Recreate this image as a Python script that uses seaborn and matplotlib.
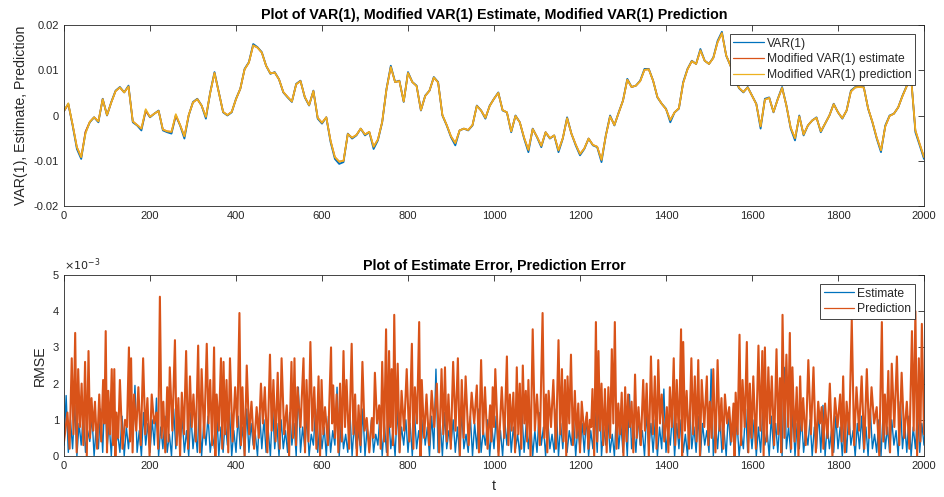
import numpy as np
import pandas as pd
import matplotlib
matplotlib.use('Agg')
import matplotlib.pyplot as plt
import seaborn as sns

# MATLAB default line colours
BLUE = '#0072BD'
ORANGE = '#D95319'
YELLOW = '#EDB120'
AXC = '#262626'

# ---- top panel: VAR(1) and modified estimate / prediction, sampled every 10 steps
t_top = np.arange(0, 2001, 10)

var1 = [
    0.0010, 0.0026, -0.0022, -0.0074, -0.0096, -0.0037, -0.0015, -0.0004, -0.0015, 0.0037,
    0.0000, 0.0030, 0.0055, 0.0063, 0.0051, 0.0066, -0.0015, -0.0022, -0.0033, 0.0011,
    -0.0004, 0.0004, 0.0011, -0.0033, -0.0037, -0.0040, 0.0000, -0.0022, -0.0051, 0.0000,
    0.0030, 0.0037, 0.0022, -0.0007, 0.0051, 0.0096, 0.0051, 0.0007, 0.0000, 0.0007,
    0.0037, 0.0059, 0.0103, 0.0118, 0.0158, 0.0151, 0.0140, 0.0110, 0.0092, 0.0096,
    0.0080, 0.0051, 0.0040, 0.0030, 0.0070, 0.0077, 0.0040, 0.0022, 0.0055, -0.0007,
    -0.0018, -0.0004, -0.0059, -0.0096, -0.0107, -0.0103, -0.0040, -0.0051, -0.0044, -0.0029,
    -0.0044, -0.0037, -0.0074, -0.0055, -0.0015, 0.0059, 0.0110, 0.0074, 0.0077, 0.0030,
    0.0096, 0.0074, 0.0066, 0.0011, 0.0044, 0.0055, 0.0085, 0.0074, 0.0000, -0.0022,
    -0.0048, -0.0066, -0.0033, -0.0029, -0.0033, -0.0022, 0.0022, 0.0011, -0.0007, 0.0022,
    0.0037, 0.0051, 0.0011, 0.0007, -0.0037, 0.0000, -0.0015, -0.0051, -0.0081, -0.0029,
    -0.0048, -0.0070, -0.0037, -0.0051, -0.0044, -0.0081, -0.0051, -0.0004, -0.0040, -0.0066,
    -0.0088, -0.0074, -0.0051, -0.0066, -0.0070, -0.0103, -0.0044, 0.0000, -0.0022, 0.0007,
    0.0033, 0.0081, 0.0063, 0.0066, 0.0077, 0.0103, 0.0103, 0.0077, 0.0040, 0.0026,
    0.0015, -0.0015, 0.0007, 0.0015, 0.0074, 0.0103, 0.0121, 0.0114, 0.0147, 0.0121,
    0.0114, 0.0128, 0.0165, 0.0185, 0.0132, 0.0110, 0.0080, 0.0060, 0.0051, 0.0063,
    0.0044, 0.0026, -0.0029, 0.0037, 0.0040, 0.0007, 0.0037, 0.0063, 0.0022, -0.0029,
    -0.0055, 0.0000, -0.0044, -0.0022, -0.0011, -0.0004, -0.0037, -0.0018, 0.0000, 0.0026,
    0.0007, -0.0007, 0.0011, 0.0055, 0.0063, 0.0063, 0.0063, 0.0015, -0.0015, -0.0051,
    -0.0081, -0.0022, 0.0000, 0.0004, 0.0018, 0.0044, 0.0066, 0.0085, -0.0037, -0.0066,
    -0.0096,
]

est_top = [
    0.0010, 0.0025, -0.0020, -0.0070, -0.0092, -0.0036, -0.0014, -0.0004, -0.0013, 0.0036,
    0.0001, 0.0029, 0.0054, 0.0062, 0.0051, 0.0064, -0.0013, -0.0021, -0.0029, 0.0010,
    -0.0003, 0.0004, 0.0010, -0.0031, -0.0035, -0.0036, 0.0000, -0.0021, -0.0046, 0.0001,
    0.0029, 0.0036, 0.0022, -0.0003, 0.0050, 0.0094, 0.0051, 0.0008, 0.0001, 0.0008,
    0.0036, 0.0059, 0.0102, 0.0117, 0.0155, 0.0150, 0.0139, 0.0110, 0.0093, 0.0095,
    0.0080, 0.0052, 0.0041, 0.0031, 0.0069, 0.0076, 0.0041, 0.0023, 0.0054, -0.0005,
    -0.0016, -0.0004, -0.0056, -0.0092, -0.0102, -0.0100, -0.0041, -0.0049, -0.0043, -0.0029,
    -0.0042, -0.0036, -0.0069, -0.0053, -0.0014, 0.0058, 0.0107, 0.0074, 0.0076, 0.0031,
    0.0094, 0.0074, 0.0065, 0.0012, 0.0043, 0.0055, 0.0084, 0.0073, 0.0001, -0.0021,
    -0.0046, -0.0061, -0.0033, -0.0029, -0.0032, -0.0021, 0.0021, 0.0011, -0.0005, 0.0021,
    0.0037, 0.0050, 0.0012, 0.0007, -0.0035, -0.0001, -0.0015, -0.0049, -0.0076, -0.0030,
    -0.0047, -0.0067, -0.0037, -0.0050, -0.0044, -0.0077, -0.0050, -0.0006, -0.0040, -0.0064,
    -0.0085, -0.0073, -0.0051, -0.0065, -0.0069, -0.0098, -0.0045, -0.0002, -0.0021, 0.0006,
    0.0033, 0.0079, 0.0063, 0.0066, 0.0076, 0.0101, 0.0102, 0.0077, 0.0041, 0.0026,
    0.0014, -0.0010, 0.0007, 0.0016, 0.0072, 0.0102, 0.0120, 0.0114, 0.0144, 0.0121,
    0.0114, 0.0127, 0.0162, 0.0182, 0.0133, 0.0110, 0.0081, 0.0061, 0.0052, 0.0062,
    0.0044, 0.0025, -0.0024, 0.0035, 0.0039, 0.0008, 0.0036, 0.0061, 0.0022, -0.0027,
    -0.0050, -0.0002, -0.0042, -0.0022, -0.0011, -0.0005, -0.0035, -0.0018, 0.0000, 0.0025,
    0.0007, -0.0006, 0.0011, 0.0053, 0.0062, 0.0063, 0.0062, 0.0016, -0.0014, -0.0049,
    -0.0077, -0.0024, -0.0001, 0.0004, 0.0018, 0.0043, 0.0065, 0.0083, -0.0033, -0.0063,
    -0.0092,
]

pred_top = [
    0.0010, 0.0027, -0.0020, -0.0070, -0.0092, -0.0040, -0.0014, -0.0004, -0.0013, 0.0036,
    0.0001, 0.0029, 0.0054, 0.0062, 0.0051, 0.0064, -0.0013, -0.0021, -0.0029, 0.0014,
    -0.0003, 0.0004, 0.0010, -0.0031, -0.0035, -0.0036, 0.0003, -0.0021, -0.0046, 0.0001,
    0.0029, 0.0036, 0.0022, -0.0003, 0.0050, 0.0094, 0.0051, 0.0008, 0.0001, 0.0008,
    0.0036, 0.0059, 0.0102, 0.0117, 0.0155, 0.0150, 0.0139, 0.0110, 0.0093, 0.0095,
    0.0080, 0.0052, 0.0041, 0.0031, 0.0069, 0.0076, 0.0041, 0.0023, 0.0054, -0.0005,
    -0.0016, -0.0004, -0.0056, -0.0092, -0.0102, -0.0100, -0.0041, -0.0049, -0.0043, -0.0029,
    -0.0042, -0.0036, -0.0069, -0.0053, -0.0014, 0.0058, 0.0107, 0.0074, 0.0076, 0.0031,
    0.0094, 0.0074, 0.0065, 0.0012, 0.0043, 0.0055, 0.0084, 0.0073, 0.0001, -0.0021,
    -0.0046, -0.0061, -0.0033, -0.0029, -0.0032, -0.0021, 0.0021, 0.0011, -0.0005, 0.0021,
    0.0037, 0.0050, 0.0012, 0.0007, -0.0035, -0.0001, -0.0015, -0.0049, -0.0076, -0.0030,
    -0.0047, -0.0067, -0.0037, -0.0050, -0.0044, -0.0077, -0.0050, -0.0006, -0.0040, -0.0064,
    -0.0085, -0.0073, -0.0051, -0.0065, -0.0069, -0.0098, -0.0045, -0.0002, -0.0021, 0.0006,
    0.0033, 0.0079, 0.0063, 0.0066, 0.0076, 0.0101, 0.0102, 0.0077, 0.0041, 0.0026,
    0.0014, -0.0010, 0.0007, 0.0016, 0.0072, 0.0102, 0.0120, 0.0114, 0.0144, 0.0121,
    0.0114, 0.0127, 0.0162, 0.0182, 0.0133, 0.0110, 0.0081, 0.0061, 0.0052, 0.0062,
    0.0044, 0.0025, -0.0024, 0.0035, 0.0039, 0.0008, 0.0036, 0.0061, 0.0022, -0.0027,
    -0.0050, -0.0002, -0.0042, -0.0022, -0.0011, -0.0005, -0.0035, -0.0018, 0.0000, 0.0025,
    0.0007, -0.0006, 0.0011, 0.0053, 0.0062, 0.0063, 0.0062, 0.0016, -0.0014, -0.0049,
    -0.0077, -0.0024, -0.0001, 0.0004, 0.0018, 0.0043, 0.0065, 0.0083, -0.0033, -0.0063,
    -0.0092,
]

# ---- bottom panel: errors, in units of 1e-3
# estimate error, every 5 steps
t_est = np.arange(0, 2001, 5)
est_err = [
    0.3, 1.67, 0.1, 1.0, 0.2, 1.4, 0.0, 0.9, 0.3, 1.2, 0.1, 0.7, 0.4, 1.1, 0.0, 0.8, 0.2, 1.3, 0.1, 1.85,
    0.2, 0.9, 0.0, 1.2, 0.3, 0.6, 0.1, 1.1, 0.0, 0.8, 0.2, 1.0, 0.4, 1.95, 0.1, 0.7, 0.0, 1.2, 0.3, 0.9,
    0.1, 1.0, 0.3, 1.6, 0.0, 0.8, 0.2, 1.1, 0.1, 0.6, 0.0, 1.3, 0.2, 0.9, 0.4, 1.0, 0.1, 0.7, 0.0, 1.2,
    0.2, 0.8, 0.1, 1.4, 0.0, 0.9, 0.3, 1.1, 0.1, 0.6, 0.2, 1.3, 0.0, 0.8, 0.1, 1.0, 0.3, 1.2, 0.0, 0.7,
    0.1, 1.1, 0.2, 0.8, 0.0, 1.3, 0.1, 0.9, 0.3, 0.6, 0.0, 1.2, 0.2, 1.0, 0.1, 0.7, 0.0, 1.4, 0.2, 0.9,
    0.0, 1.0, 0.2, 0.7, 0.1, 1.2, 0.3, 0.9, 0.0, 1.9, 0.1, 0.8, 0.2, 1.1, 0.0, 0.6, 0.3, 1.3, 0.1, 0.9,
    0.2, 0.8, 0.0, 1.1, 0.1, 0.7, 0.3, 1.9, 0.0, 1.0, 0.2, 0.6, 0.1, 1.2, 0.0, 0.9, 0.2, 0.7, 0.1, 1.3,
    0.0, 0.8, 0.2, 1.0, 0.1, 0.6, 0.3, 1.2, 0.0, 0.9, 0.1, 1.1, 0.2, 0.7, 0.0, 1.3, 0.1, 0.8, 0.3, 1.0,
    0.1, 0.9, 0.0, 1.2, 0.2, 0.7, 0.1, 1.0, 0.3, 0.8, 0.0, 1.1, 0.2, 2.4, 0.1, 0.9, 0.0, 1.2, 0.2, 0.7,
    0.3, 1.0, 0.1, 0.8, 0.0, 1.2, 0.2, 0.6, 0.1, 1.1, 0.0, 0.9, 0.2, 1.3, 0.1, 0.7, 0.3, 1.0, 0.0, 0.8,
    0.2, 1.1, 0.1, 0.7, 0.0, 1.0, 0.3, 1.3, 0.1, 0.8, 0.2, 0.6, 0.0, 1.2, 0.1, 0.9, 0.2, 1.0, 0.0, 0.7,
    0.1, 1.2, 0.3, 0.8, 0.0, 1.0, 0.2, 0.6, 0.1, 1.3, 0.0, 0.9, 0.2, 1.1, 0.1, 0.7, 0.3, 1.0, 0.0, 0.8,
    0.2, 0.9, 0.1, 1.1, 0.0, 0.7, 0.2, 1.2, 0.1, 2.0, 0.0, 0.8, 0.3, 1.0, 0.1, 0.6, 0.0, 1.3, 0.2, 0.9,
    0.1, 1.0, 0.0, 1.7, 0.2, 0.8, 0.1, 1.1, 0.3, 0.7, 0.0, 1.2, 0.2, 0.9, 0.1, 1.0, 0.0, 0.8, 0.2, 1.85,
    0.1, 0.7, 0.3, 1.2, 0.0, 0.9, 0.2, 1.0, 0.1, 0.6, 0.0, 1.3, 0.2, 0.8, 0.1, 1.1, 0.0, 0.9, 0.3, 0.7,
    0.1, 2.4, 0.0, 0.9, 0.2, 1.1, 0.1, 0.7, 0.0, 1.2, 0.3, 0.8, 0.1, 1.0, 0.0, 0.6, 0.2, 1.3, 0.1, 0.9,
    0.2, 1.0, 0.0, 0.8, 0.1, 1.2, 0.3, 0.7, 0.0, 1.1, 0.2, 0.9, 0.1, 1.0, 0.0, 2.45, 0.2, 0.8, 0.1, 1.2,
    0.0, 0.9, 0.2, 1.1, 0.1, 0.7, 0.3, 1.0, 0.0, 0.8, 0.2, 1.2, 0.1, 1.4, 0.0, 0.9, 0.2, 0.7, 0.1, 1.1,
    0.2, 0.8, 0.0, 1.0, 0.1, 1.2, 0.3, 0.7, 0.0, 0.9, 0.2, 1.1, 0.1, 0.8, 0.0, 1.3, 0.2, 0.6, 0.1, 1.0,
    0.0, 1.2, 0.2, 0.8, 0.1, 1.0, 0.3, 0.7, 0.0, 1.5, 0.2, 0.9, 0.1, 1.1, 0.0, 0.8, 0.2, 1.2, 0.1, 0.9,
    0.3,
]

# prediction error: spike tops (t, value)
pred_peak_t = [
    8, 18, 26, 33, 41, 49, 57, 64, 72, 82,
    91, 97, 103, 111, 117, 122, 130, 142, 151, 156,
    163, 173, 184, 194, 204, 215, 223, 231, 240, 246,
    258, 266, 274, 284, 293, 301, 312, 320, 332, 340,
    349, 355, 365, 371, 378, 386, 398, 408, 415, 425,
    436, 448, 458, 467, 479, 487, 497, 506, 518, 529,
    536, 543, 557, 564, 573, 582, 592, 599, 607, 621,
    626, 634, 642, 650, 657, 669, 677, 685, 694, 704,
    716, 723, 733, 740, 749, 756, 762, 768, 776, 785,
    797, 809, 816, 826, 832, 843, 855, 867, 878, 886,
    894, 905, 916, 925, 934, 948, 960, 970, 979, 991,
    997, 1003, 1018, 1030, 1037, 1045, 1053, 1060, 1067, 1074,
    1080, 1090, 1100, 1113, 1121, 1127, 1138, 1150, 1158, 1165,
    1171, 1179, 1188, 1196, 1204, 1216, 1223, 1229, 1237, 1243,
    1250, 1258, 1266, 1274, 1281, 1289, 1297, 1305, 1312, 1320,
    1328, 1336, 1347, 1355, 1365, 1374, 1382, 1390, 1402, 1409,
    1418, 1425, 1435, 1440, 1448, 1459, 1467, 1475, 1483, 1495,
    1502, 1510, 1520, 1529, 1537, 1547, 1557, 1562, 1571, 1578,
    1588, 1595, 1603, 1615, 1624, 1630, 1638, 1646, 1657, 1665,
    1671, 1680, 1688, 1694, 1704, 1712, 1719, 1731, 1743, 1754,
    1762, 1770, 1781, 1793, 1805, 1812, 1820, 1832, 1843, 1855,
    1867, 1878, 1890, 1902, 1909, 1917, 1925, 1937, 1948, 1960,
    1972, 1980, 1988, 1995,
]
pred_peak = [
    1.2, 2.7, 3.4, 2.4, 2.0, 2.6, 2.9, 1.6, 1.5, 1.7,
    2.1, 3.45, 1.8, 2.4, 2.4, 1.2, 2.1, 1.0, 3.0, 2.7,
    1.7, 1.9, 2.7, 1.6, 1.7, 1.2, 4.4, 1.5, 1.9, 2.45,
    3.2, 1.6, 1.75, 2.9, 2.2, 1.7, 3.05, 2.4, 3.1, 2.1,
    3.0, 1.7, 2.7, 2.6, 2.1, 2.7, 1.9, 3.95, 1.9, 2.5,
    1.5, 1.35, 2.0, 1.9, 2.8, 2.1, 2.3, 2.7, 1.4, 2.6,
    2.7, 1.9, 2.7, 2.1, 3.15, 1.9, 2.2, 2.1, 1.35, 3.0,
    1.95, 1.7, 2.0, 2.9, 2.1, 3.1, 1.7, 1.4, 2.6, 1.05,
    1.05, 2.3, 1.4, 2.6, 3.5, 2.9, 2.4, 3.9, 2.55, 1.8,
    2.4, 3.1, 1.9, 3.7, 2.1, 1.7, 1.8, 2.0, 2.4, 2.45,
    1.7, 2.6, 2.7, 2.1, 2.2, 1.75, 1.95, 2.65, 1.9, 1.4,
    1.9, 2.4, 1.9, 2.75, 1.7, 1.75, 2.45, 2.0, 2.5, 1.8,
    2.1, 3.5, 1.7, 3.95, 1.7, 1.8, 2.1, 3.2, 2.4, 2.1,
    2.2, 2.8, 1.8, 1.45, 1.5, 1.2, 1.0, 1.85, 3.7, 2.9,
    2.0, 1.85, 1.9, 2.95, 3.7, 1.45, 1.75, 1.9, 1.7, 1.5,
    2.25, 1.35, 2.1, 2.0, 2.75, 2.2, 2.65, 1.7, 1.35, 1.9,
    2.7, 2.1, 3.5, 3.15, 1.8, 2.7, 2.2, 2.65, 2.1, 2.2,
    1.5, 2.4, 2.65, 1.6, 1.7, 1.35, 1.45, 1.75, 3.35, 2.1,
    3.15, 2.0, 2.2, 3.05, 2.9, 3.0, 2.45, 2.2, 2.95, 2.15,
    3.9, 2.8, 3.4, 2.45, 1.9, 2.2, 1.6, 2.65, 2.45, 1.5,
    1.35, 1.45, 2.0, 1.6, 1.7, 2.2, 1.5, 3.75, 1.9, 2.2,
    2.4, 1.9, 1.35, 3.7, 1.7, 2.35, 2.55, 2.75, 2.3, 1.5,
    3.45, 4.0, 2.7, 3.65,
]
# low points between spikes (first at t=0, last at t=2000)
pred_low = [
    0.4, 0.2, 0.6, 0.1, 0.8, 0.3, 0.0, 0.5, 0.7, 0.2, 0.4, 0.9, 0.1, 0.6, 0.3,
    0.0, 0.5, 0.2, 0.8, 0.4, 0.1, 0.7, 0.3, 0.6, 0.0, 0.9, 0.2, 0.5, 0.1, 0.4,
    0.7, 0.3, 0.0, 0.6, 0.2, 0.8, 0.4, 0.1, 0.5, 0.9, 0.3, 0.0, 0.7, 0.2, 0.6,
    0.1, 0.4, 0.8, 0.3, 0.0, 0.6, 0.2, 0.5, 0.9, 0.1, 0.7, 0.4, 0.2, 0.6, 0.0,
    0.5, 0.3, 0.8, 0.1, 0.4, 0.7, 0.2, 0.0, 0.6, 0.3, 0.9, 0.5, 0.1, 0.4, 0.8,
    0.2, 0.6, 0.0, 0.3, 0.7, 0.1, 0.5, 0.9, 0.2, 0.4, 0.0, 0.8, 0.3, 0.6, 0.1,
    0.7, 0.4, 0.2, 0.9, 0.0, 0.5, 0.3, 0.8, 0.1, 0.6, 0.4, 0.2, 0.7, 0.0, 0.5,
    0.3, 0.9, 0.1, 0.6, 0.2, 0.4, 0.8, 0.0, 0.5, 0.3, 0.7, 0.1, 0.6, 0.2, 0.9,
    0.4, 0.0, 0.7, 0.3, 0.5, 0.1, 0.8, 0.2, 0.6, 0.4, 0.0, 0.9, 0.3, 0.5, 0.1,
    0.6, 0.2, 0.8, 0.0, 0.4, 0.7, 0.3, 0.1, 0.5, 0.9, 0.2, 0.6, 0.0, 0.4, 0.8,
    0.1, 0.5, 0.3, 0.7, 0.0, 0.6, 0.2, 0.9, 0.4, 0.1, 0.8, 0.3, 0.5, 0.0, 0.7,
    0.2, 0.6, 0.4, 0.0, 0.8, 0.3, 0.5, 0.1, 0.7, 0.2, 0.9, 0.4, 0.0, 0.6, 0.3,
    0.8, 0.1, 0.5, 0.2, 0.7, 0.0, 0.4, 0.9, 0.3, 0.6, 0.1, 0.5, 0.8, 0.2, 0.4,
    0.0, 0.7, 0.3, 0.6, 0.1, 0.9, 0.2, 0.5, 0.0, 0.8, 0.4, 0.1, 0.6, 0.3, 0.7,
    0.2, 0.5, 0.9, 0.0, 0.4, 0.6, 0.1, 0.8, 0.3, 0.5, 0.2, 0.7, 0.0, 0.4, 0.6,
]

x_ticks = np.arange(0, 2001, 200)

# spike / low point path for prediction error
pk_t = np.array(pred_peak_t, dtype=float)
pred_t = np.empty(2 * len(pk_t) + 1)
pred_t[0], pred_t[-1] = 0, 2000
pred_t[1::2] = pk_t
pred_t[2:-1:2] = (pk_t[:-1] + pk_t[1:]) / 2
pred_v = np.empty_like(pred_t)
pred_v[0::2] = pred_low
pred_v[1::2] = pred_peak

# ---- style
sns.set_theme(style='white')
plt.rcParams['font.family'] = ['Liberation Sans', 'DejaVu Sans']
plt.rcParams['axes.unicode_minus'] = False

fig = plt.figure(figsize=(9.44, 4.97), dpi=100)
W, H = 944, 497
ax1 = fig.add_axes([64 / W, 1 - 206 / H, 860 / W, 181 / H])
ax2 = fig.add_axes([64 / W, 1 - 456 / H, 860 / W, 181 / H])

kw = dict(estimator=None, errorbar=None, sort=False)
sns.lineplot(x=t_top, y=var1, ax=ax1, color=BLUE, label='VAR(1)', linewidth=1.3, **kw)
sns.lineplot(x=t_top, y=est_top, ax=ax1, color=ORANGE, label='Modified VAR(1) estimate', linewidth=1.2, **kw)
sns.lineplot(x=t_top, y=pred_top, ax=ax1, color=YELLOW, label='Modified VAR(1) prediction', linewidth=1.2, **kw)

sns.lineplot(x=t_est, y=est_err, ax=ax2, color=BLUE, label='Estimate', linewidth=1.0, **kw)
sns.lineplot(x=pred_t, y=pred_v, ax=ax2, color=ORANGE, label='Prediction', linewidth=1.5, **kw)

for ax in (ax1, ax2):
    ax.set_xlim(0, 2000)
    ax.set_xticks(x_ticks)
    ax.set_xticklabels([str(v) for v in x_ticks])
    ax.tick_params(direction='in', top=True, right=True, length=4, width=0.6,
                   colors=AXC, labelsize=8, pad=3.5)
    for s in ax.spines.values():
        s.set_color(AXC)
        s.set_linewidth(0.6)
    ax.set_facecolor('white')

ax1.set_ylim(-0.02, 0.02)
ax1.set_yticks([-0.02, -0.01, 0, 0.01, 0.02])
ax1.set_yticklabels(['-0.02', '-0.01', '0', '0.01', '0.02'])
ax1.set_ylabel('VAR(1), Estimate, Prediction', fontsize=10.2, color=AXC, labelpad=4)
ax1.set_xlabel('')
ax1.set_title('Plot of VAR(1), Modified VAR(1) Estimate, Modified VAR(1) Prediction',
              fontsize=10.3, fontweight='bold', color='black', pad=4)

ax2.set_ylim(0, 5)
ax2.set_yticks([0, 1, 2, 3, 4, 5])
ax2.set_yticklabels(['0', '1', '2', '3', '4', '5'])
ax2.set_ylabel('RMSE', fontsize=10.2, color=AXC, labelpad=4)
ax2.set_xlabel('t', fontsize=10.2, color=AXC, labelpad=6)
ax2.set_title('Plot of Estimate Error, Prediction Error',
              fontsize=10.3, fontweight='bold', color='black', pad=4)
ax2.text(0.0, 1.01, r'$\times10^{-3}$', transform=ax2.transAxes,
         fontsize=8, color=AXC, ha='left', va='bottom')

leg_kw = dict(loc='upper right', fontsize=8.7, frameon=True, fancybox=False,
              framealpha=1, edgecolor=AXC, handlelength=2.5, handletextpad=0.25,
              borderpad=0.3, labelspacing=0.3, borderaxespad=0.75)
for ax in (ax1, ax2):
    leg = ax.legend(**leg_kw)
    leg.get_frame().set_linewidth(0.6)
    for ln in leg.get_lines():
        ln.set_linewidth(0.9)

fig.savefig('out.png', dpi=100, facecolor='white')
